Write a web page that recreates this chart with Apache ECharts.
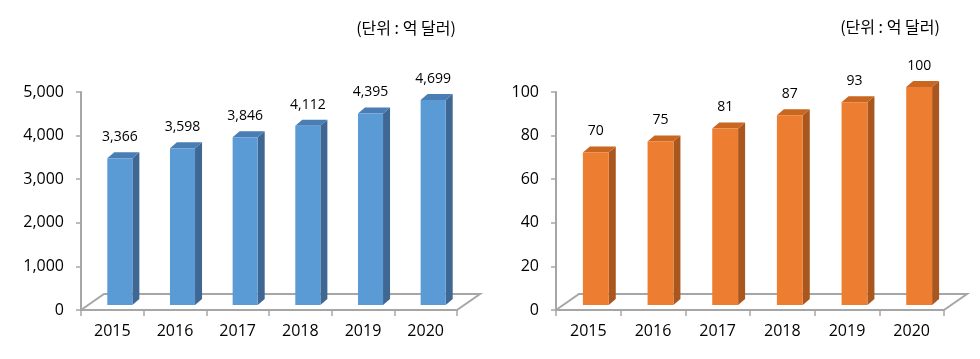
<!DOCTYPE html>
<html>
<head>
<meta charset="utf-8">
<script src="https://cdn.jsdelivr.net/npm/echarts@6/dist/echarts.min.js"></script>
<style>
html,body{margin:0;padding:0;background:#fff;}
#c{width:980px;height:359px;}
</style>
</head>
<body>
<div id="c"></div>
<script>
const years = ['2015', '2016', '2017', '2018', '2019', '2020'];
const leftValues = [3366, 3598, 3846, 4112, 4395, 4699];
const rightValues = [70, 75, 81, 87, 93, 100];
const leftTicks = { min: 0, max: 5000, interval: 1000 };
const rightTicks = { min: 0, max: 100, interval: 20 };
const unitText = '(단위 : 억 달러)';

const FONT = '"Open Sans", "Noto Sans CJK KR", sans-serif';
const KFONT = '"Noto Sans CJK KR", "Open Sans", sans-serif';
const blue = { front: '#5B9BD5', side: '#3E6793', top: '#4A7DB3' };
const orange = { front: '#ED7D31', side: '#A9571F', top: '#C9661F' };

function fmt(v) { return String(v).replace(/\B(?=(\d{3})+(?!\d))/g, ','); }

function barRenderer(col) {
  return function (params, api) {
    const idx = api.value(0), v = api.value(1);
    const base = api.coord([idx, 0]);
    const top = api.coord([idx, v]);
    const band = api.size([1, 0])[0];
    const bw = band * 0.4;
    const offX = 7.5, offY = -5, dX = 7, dY = -6;
    const cx = base[0] + offX;
    const x0 = cx - bw / 2, x1 = cx + bw / 2;
    const yb = base[1] + offY, yt = top[1] + offY;
    return {
      type: 'group',
      children: [
        { type: 'polygon', shape: { points: [[x1, yb], [x1 + dX, yb + dY], [x1 + dX, yt + dY], [x1, yt]] }, style: { fill: col.side } },
        { type: 'polygon', shape: { points: [[x0, yt], [x0 + dX, yt + dY], [x1 + dX, yt + dY], [x1, yt]] }, style: { fill: col.top } },
        { type: 'rect', shape: { x: x0, y: yt, width: bw, height: yb - yt }, style: { fill: col.front } },
        { type: 'text', x: cx, y: yt - 21, style: { text: fmt(v), fill: '#000', font: '14px ' + FONT, align: 'center', verticalAlign: 'middle' } }
      ]
    };
  };
}

function floorRenderer(params, api) {
  const cs = params.coordSys;
  const x = cs.x, y = cs.y + cs.height, w = cs.width;
  return {
    type: 'polyline',
    shape: { points: [[x, y], [x + 23, y - 16], [x + w + 23, y - 16], [x + w, y]] },
    style: { stroke: '#A6A6A6', lineWidth: 2, fill: null }
  };
}

function xAxis(gi) {
  return {
    type: 'category', gridIndex: gi, data: years, boundaryGap: true,
    axisLine: { lineStyle: { color: '#A6A6A6', width: 2 } },
    axisTick: { show: true, length: 6, lineStyle: { color: '#A6A6A6', width: 1.5 }, alignWithLabel: false },
    axisLabel: { color: '#000', fontSize: 16, fontFamily: FONT, margin: 13 }
  };
}
function yAxis(gi, t) {
  return {
    type: 'value', gridIndex: gi, min: t.min, max: t.max, interval: t.interval,
    axisLine: { show: true, lineStyle: { color: '#A6A6A6', width: 2 } },
    axisTick: { show: true, length: 5, lineStyle: { color: '#A6A6A6', width: 1.5 } },
    splitLine: { show: false },
    axisLabel: { color: '#000', fontSize: 16, fontFamily: FONT, margin: 17, formatter: fmt }
  };
}

const chart = echarts.init(document.getElementById('c'), null, { renderer: 'canvas' });
chart.setOption({
  animation: false,
  backgroundColor: '#fff',
  grid: [
    { left: 81, top: 92, width: 376, bottom: 49 },
    { left: 556, top: 92, width: 388, bottom: 49 }
  ],
  xAxis: [xAxis(0), xAxis(1)],
  yAxis: [yAxis(0, leftTicks), yAxis(1, rightTicks)],
  graphic: [
    { type: 'text', x: 406, y: 28, style: { text: unitText, fill: '#000', font: '16px ' + KFONT, align: 'center', verticalAlign: 'middle' } },
    { type: 'text', x: 890, y: 27, style: { text: unitText, fill: '#000', font: '16px ' + KFONT, align: 'center', verticalAlign: 'middle' } }
  ],
  series: [
    { type: 'custom', xAxisIndex: 0, yAxisIndex: 0, data: [[0, 0]], renderItem: floorRenderer, z: 1, silent: true },
    { type: 'custom', xAxisIndex: 1, yAxisIndex: 1, data: [[0, 0]], renderItem: floorRenderer, z: 1, silent: true },
    { type: 'custom', xAxisIndex: 0, yAxisIndex: 0, data: leftValues.map((v, i) => [i, v]), renderItem: barRenderer(blue), z: 3, encode: { x: 0, y: 1 } },
    { type: 'custom', xAxisIndex: 1, yAxisIndex: 1, data: rightValues.map((v, i) => [i, v]), renderItem: barRenderer(orange), z: 3, encode: { x: 0, y: 1 } }
  ]
});
</script>
</body>
</html>
